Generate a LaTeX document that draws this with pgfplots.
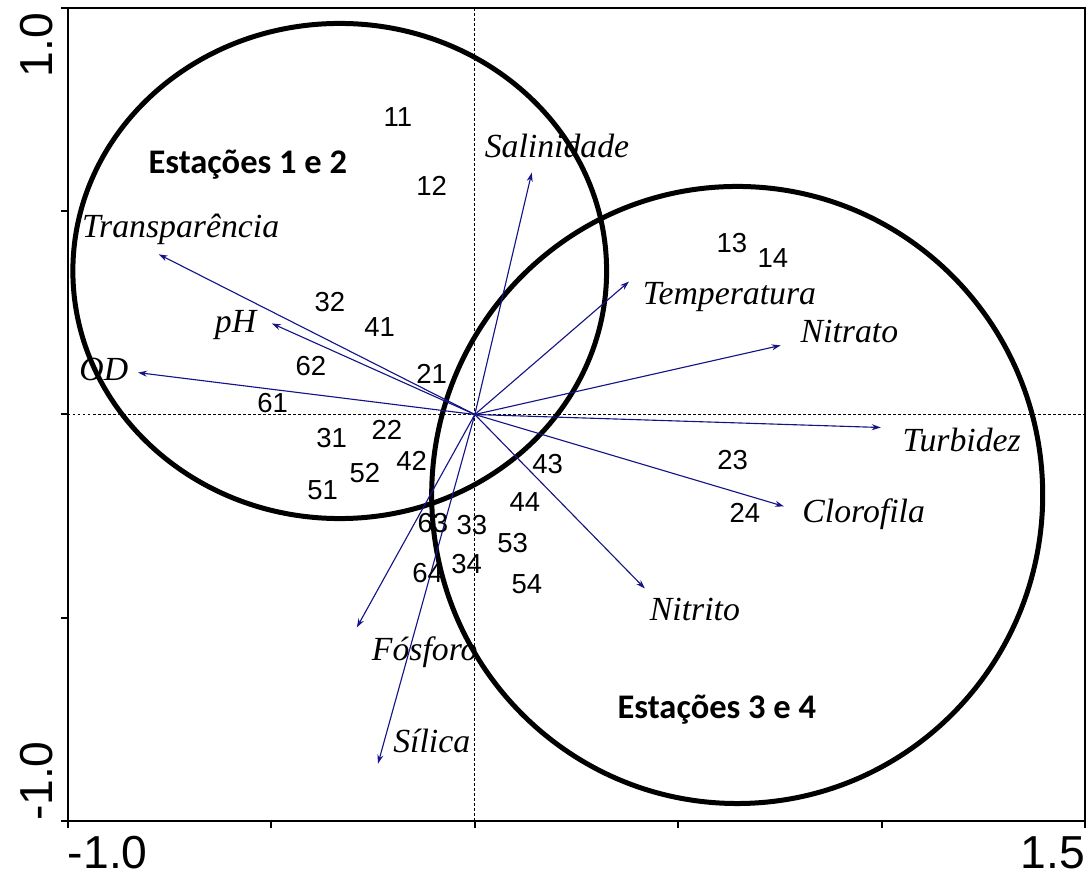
\documentclass[border=0pt]{standalone}
\usepackage{fontspec}
\setmainfont{Liberation Serif}
\newfontfamily\arialfont{Liberation Sans}
\newfontfamily\calibrifont{Carlito}
\usepackage{pgfplots}
\pgfplotsset{compat=1.18}
\usepackage{pgfplotstable}
\usetikzlibrary{arrows.meta}

\definecolor{navy}{RGB}{20,20,135}

% site scores (sample labels)
\pgfplotstableread{
label x y
11 -0.189 0.731
12 -0.106 0.563
13 0.632 0.421
14 0.733 0.386
32 -0.356 0.276
41 -0.234 0.216
62 -0.403 0.118
21 -0.106 0.101
61 -0.497 0.027
31 -0.352 -0.057
22 -0.216 -0.039
52 -0.270 -0.143
42 -0.155 -0.113
51 -0.374 -0.187
43 0.179 -0.121
23 0.634 -0.111
24 0.664 -0.241
44 0.123 -0.216
63 -0.103 -0.268
33 -0.007 -0.271
53 0.093 -0.315
34 -0.020 -0.367
64 -0.116 -0.391
54 0.128 -0.418
}\sites

% environmental vectors: tip (tx,ty), label position (lx,ly)
\pgfplotstableread{
name ox oy tx ty lx ly
Transparência 0 0 -0.777 0.394 -0.723 0.435
pH 0 0 -0.499 0.224 -0.588 0.202
OD 0 0 -0.828 0.103 -0.912 0.084
Salinidade 0 0 0.140 0.595 0.202 0.632
Temperatura 0 0 0.379 0.327 0.626 0.271
Nitrato 0 0 0.752 0.170 0.921 0.177
Turbidez 0 0 0.998 -0.032 1.197 -0.091
Clorofila 0 0 0.760 -0.226 0.956 -0.266
Nitrito 0 0 0.418 -0.428 0.541 -0.507
Fósforo 0 0 -0.290 -0.524 -0.123 -0.605
Sílica 0 0 -0.238 -0.859 -0.106 -0.831
}\envvars

\begin{document}
\begin{tikzpicture}
\useasboundingbox (-27.2pt,-24pt) rectangle (408.4pt,328.4pt);
\begin{axis}[
scale only axis,
width=406.8pt, height=325.2pt,
xmin=-1, xmax=1.5,
ymin=-1, ymax=1,
xtick={-1,-0.5,0,0.5,1,1.5},
xticklabels={\rlap{-1.0},,,,,\llap{1.5}},
ytick={-1,-0.5,0,0.5,1},
yticklabels={\rlap{-1.0},,,,\llap{1.0\hspace{2pt}}},
tick align=outside,
tick pos=left,
major tick length=2.6pt,
every tick/.style={black, line width=0.8pt},
axis line style={line width=0.8pt},
ticklabel style={font=\arialfont\fontsize{18.5}{18.5}\selectfont},
yticklabel style={rotate=90, anchor=south},
clip=false,
]
% reference lines through origin
\draw[dash pattern=on 1pt off 1pt, line width=0.35pt] (axis cs:0,-1) -- (axis cs:0,1);
\draw[dash pattern=on 1pt off 1pt, line width=0.35pt] (axis cs:-1,0) -- (axis cs:1.5,0);

% group ellipses
\draw[line width=2pt] (axis cs:-0.332,0.353) ellipse [x radius=0.656, y radius=0.609];
\draw[line width=2pt] (axis cs:0.645,-0.198) ellipse [x radius=0.751, y radius=0.759];

% environmental arrows
\addplot[navy, line width=0.45pt, -{Stealth[length=3.6pt,width=2.4pt]},
  quiver={u=\thisrow{tx}, v=\thisrow{ty}}]
  table[x=ox, y=oy]{\envvars};

% variable names
\addplot[draw=none, mark=none, nodes near coords, point meta=explicit symbolic,
  every node near coord/.style={anchor=base, inner sep=0pt,
    font=\itshape\fontsize{13.5}{13.5}\selectfont}]
  table[x=lx, y=ly, meta=name]{\envvars};

% sample labels
\addplot[draw=none, mark=none, nodes near coords, point meta=explicit symbolic,
  every node near coord/.style={anchor=center, inner sep=0pt,
    font=\arialfont\fontsize{11}{11}\selectfont}]
  table[x=x, y=y, meta=label]{\sites};

\node[anchor=base, font=\calibrifont\bfseries\fontsize{13.8}{13.8}\selectfont]
  at (axis cs:-0.558,0.593) {Estações 1 e 2};
\node[anchor=base, font=\calibrifont\bfseries\fontsize{13.8}{13.8}\selectfont]
  at (axis cs:0.595,-0.748) {Estações 3 e 4};
\end{axis}
\end{tikzpicture}
\end{document}
